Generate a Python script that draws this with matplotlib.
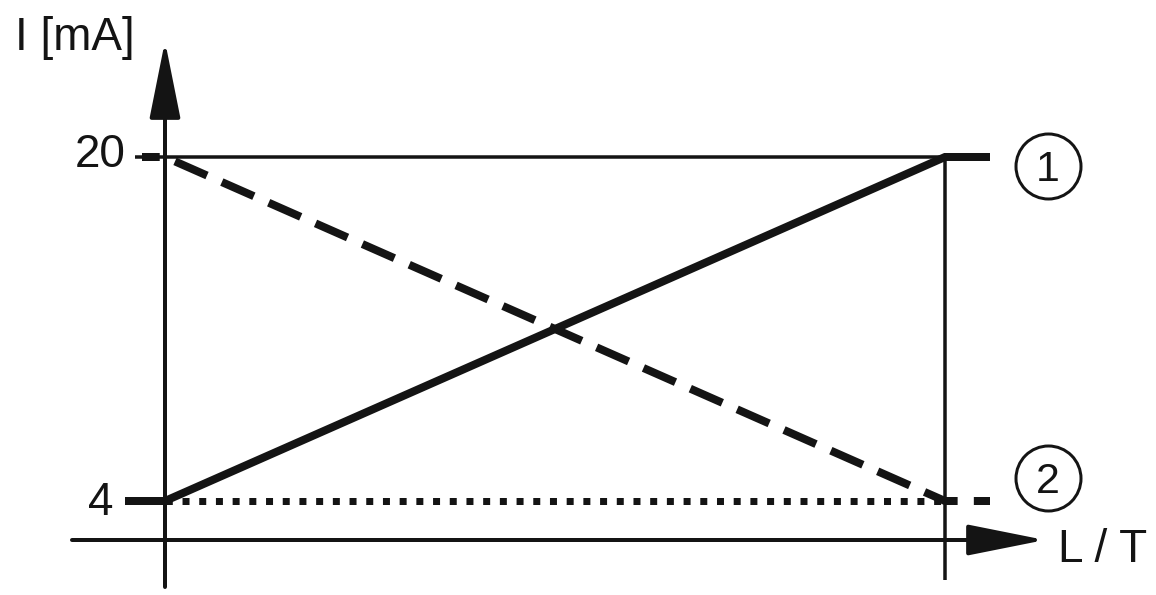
import matplotlib
matplotlib.use("Agg")
import matplotlib.pyplot as plt

# chart values
current_levels = [4, 20]          # mA, the two output limits
level_labels = ["4", "20"]
span = [0, 1]                     # L / T, start and end of the range
rising = [4, 20]                  # output 1 (solid)
falling = [20, 4]                 # output 2 (dashed)
curve_labels = ["1", "2"]
y_label = "I [mA]"
x_label = "L / T"

# layout, in pixels of the 1156x595 picture
W, H = 1156, 595
X0_PX, X1_PX = 165, 945           # span 0 and 1
Y4_PX, Y20_PX = 501, 157          # 4 mA and 20 mA


def px2x(px):
    return (px - X0_PX) / (X1_PX - X0_PX) * (span[1] - span[0]) + span[0]


def py2y(py):
    lo, hi = current_levels
    return lo + (Y4_PX - py) / (Y4_PX - Y20_PX) * (hi - lo)


def lw(px):
    # pixels -> points at 100 dpi
    return px * 0.72


ink = "#141414"
plt.rcParams['font.family'] = ['Liberation Sans', 'DejaVu Sans']

fig = plt.figure(figsize=(W / 100, H / 100), dpi=100)
ax = fig.add_axes([0, 0, 1, 1])
ax.set_xlim(px2x(0), px2x(W))
ax.set_ylim(py2y(H), py2y(0))
ax.axis("off")

# axes with arrow heads
arrow = dict(arrowstyle="-|>,head_length=2.4,head_width=0.48", mutation_scale=20,
             lw=lw(4), color=ink, shrinkA=0, shrinkB=0, joinstyle="round")
ax.annotate("", xy=(span[0], py2y(41)), xytext=(span[0], py2y(587)), arrowprops=arrow)
ax.annotate("", xy=(px2x(1045), py2y(540)), xytext=(px2x(72), py2y(540)), arrowprops=arrow)

# frame lines: 20 mA level and end of range
ax.plot([px2x(135), span[1]], [current_levels[1]] * 2, color=ink, lw=lw(3.5), solid_capstyle="butt")
ax.plot([span[1], span[1]], [current_levels[1], py2y(580)], color=ink, lw=lw(3.5), solid_capstyle="butt")

# 4 mA dotted reference
ax.plot(span, [current_levels[0]] * 2, color=ink, lw=lw(7),
        linestyle=(2.34, (1.0, 1.386)), dash_capstyle="butt")

# output 1, solid
x_tail = px2x(990)
xs = [px2x(125)] + span + [x_tail]
ys = [rising[0]] + rising + [rising[-1]]
ax.plot(xs, ys, color=ink, lw=lw(8), solid_capstyle="butt", solid_joinstyle="miter")

# output 2, dashed
xs = [px2x(142)] + span + [x_tail]
ys = [falling[0]] + falling + [falling[-1]]
ax.plot(xs, ys, color=ink, lw=lw(8), linestyle=(2.16, (4.375, 2.025)),
        dash_capstyle="butt", dash_joinstyle="miter")

# tick labels
label_right = {"4": 113, "20": 126}
label_base = {"4": 515, "20": 167}
for val, txt in zip(current_levels, level_labels):
    ax.text(px2x(label_right[txt]), py2y(label_base[txt]), txt, ha="right", va="baseline",
            fontsize=33, color=ink)

ax.text(px2x(15), py2y(50), y_label, ha="left", va="baseline", fontsize=33, color=ink)
ax.text(px2x(1058), py2y(562), x_label, ha="left", va="baseline", fontsize=33, color=ink)

# circled curve numbers
circle_y = [py2y(166), py2y(477.5)]
for cy, txt in zip(circle_y, curve_labels):
    ax.plot([px2x(1047.5)], [cy], "o", ms=lw(65), mfc="white", mec=ink, mew=lw(3))
    ax.text(px2x(1047.5), cy, txt, ha="center", va="center_baseline", fontsize=31, color=ink)

fig.savefig("out.png", dpi=100)
